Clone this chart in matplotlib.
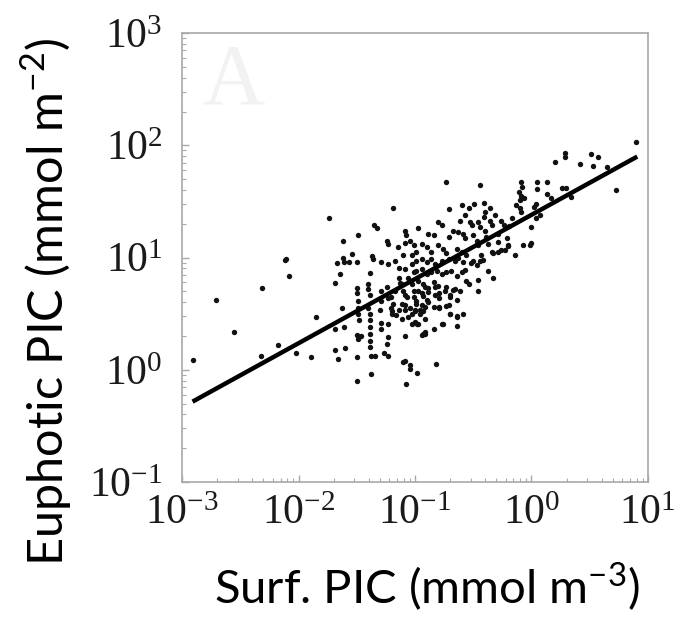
import numpy as np
import matplotlib
matplotlib.use('Agg')
import matplotlib.pyplot as plt
from matplotlib.ticker import LogLocator, NullFormatter

# values as (log10 surface PIC, log10 euphotic PIC)
sparse_left = [
    (-2.91, 0.09), (-2.71, 0.62), (-2.55, 0.34), (-2.31, 0.73), (-2.32, 0.12),
    (-2.18, 0.22), (-2.12, 0.98), (-2.11, 0.99), (-2.08, 0.84), (-2.02, 0.15),
]
upper_left = [
    (-1.74, 1.35), (-1.19, 1.44), (-1.35, 1.29), (-1.33, 1.26), (-1.49, 1.20),
    (-1.62, 1.15), (-1.09, 1.24), (-1.08, 1.20), (-1.24, 1.15), (-1.23, 1.12),
    (-1.15, 1.09), (-1.09, 1.13), (-1.04, 1.15), (-1.01, 1.11), (-1.54, 1.03),
    (-1.37, 1.01), (-1.10, 1.02), (-1.03, 1.02), (-1.62, 1.00),
]
upper_mid = [
    (-0.73, 1.67), (-0.44, 1.65), (-0.09, 1.67), (-0.08, 1.63), (-0.11, 1.58),
    (-0.09, 1.55), (-0.06, 1.53), (-0.10, 1.51), (-0.13, 1.47), (-0.10, 1.44),
    (-0.09, 1.41), (-0.71, 1.43), (-0.60, 1.47), (-0.54, 1.44), (-0.49, 1.48),
    (-0.41, 1.49), (-0.36, 1.44), (-0.40, 1.41), (-0.41, 1.36), (-0.31, 1.38),
    (-0.57, 1.38), (-0.61, 1.33), (-0.53, 1.32), (-0.51, 1.29), (-0.46, 1.32),
    (-0.44, 1.27), (-0.36, 1.33), (-0.34, 1.29), (-0.26, 1.33), (-0.24, 1.29),
    (-0.17, 1.35), (-0.97, 1.26), (-0.80, 1.32), (-0.77, 1.29), (-0.89, 1.21),
    (-0.84, 1.20), (-0.67, 1.24), (-0.63, 1.23), (-0.71, 1.18), (-0.59, 1.21),
    (-0.57, 1.17), (-0.50, 1.20), (-0.47, 1.15), (-0.46, 1.11), (-0.40, 1.24),
    (-0.39, 1.18), (-0.37, 1.12), (-0.29, 1.21), (-0.29, 1.14), (-0.21, 1.17),
    (-0.20, 1.11), (-0.07, 1.11), (-0.01, 1.11), (-0.94, 1.12), (-0.90, 1.09),
    (-0.86, 1.05), (-0.80, 1.11), (-0.76, 1.08), (-0.73, 1.04), (-0.64, 1.08),
    (-0.60, 1.05), (-0.56, 1.02), (-0.34, 1.05), (-0.29, 1.05), (-0.23, 1.07),
    (-0.43, 1.02), (-0.14, 1.02), (-0.99, 1.05), (-0.42, 0.98), (-0.33, 1.04),
    (-0.26, 1.07), (-0.20, 1.10), (-0.52, 0.95), (-0.57, 0.89), (-0.19, 1.28),
]
upper_right = [
    (0.90, 2.03), (0.29, 1.93), (0.29, 1.90), (0.20, 1.85), (0.51, 1.92),
    (0.57, 1.90), (0.42, 1.83), (0.53, 1.82), (0.65, 1.81), (0.73, 1.60),
    (0.05, 1.67), (0.13, 1.67), (0.05, 1.61), (0.13, 1.57), (0.26, 1.62),
    (0.30, 1.62), (0.34, 1.54), (0.17, 1.53), (0.04, 1.35), (0.00, 1.27),
    (0.00, 1.13), (0.02, 1.45), (0.04, 1.48), (0.07, 1.38),
]
lower_left = [
    (-1.67, 0.95), (-1.61, 0.96), (-1.57, 0.96), (-1.50, 0.96), (-1.36, 0.99),
    (-1.29, 0.96), (-1.64, 0.85), (-1.69, 0.77), (-1.39, 0.86), (-1.40, 0.76),
    (-1.40, 0.72), (-1.39, 0.67), (-1.50, 0.73), (-1.50, 0.68), (-1.49, 0.61),
    (-1.49, 0.55), (-1.49, 0.50), (-1.48, 0.44), (-1.63, 0.55), (-1.85, 0.47),
    (-1.40, 0.55), (-1.39, 0.50), (-1.39, 0.44), (-1.39, 0.38), (-1.39, 0.32),
    (-1.39, 0.26), (-1.39, 0.20), (-1.29, 0.70), (-1.29, 0.61), (-1.30, 0.53),
    (-1.29, 0.42), (-1.29, 0.36), (-1.23, 0.64), (-1.21, 0.55), (-1.20, 0.50),
    (-1.23, 0.41), (-1.14, 0.82), (-1.11, 0.76), (-1.17, 0.70), (-1.09, 0.67),
    (-1.06, 0.82), (-1.03, 0.76), (-1.01, 0.70), (-1.09, 0.58), (-1.04, 0.55),
    (-1.03, 0.50), (-1.14, 0.53), (-1.11, 0.45), (-1.23, 0.94), (-1.17, 0.97),
    (-1.14, 0.91), (-1.09, 0.90), (-1.03, 0.94), (-1.01, 0.87), (-1.69, 0.36),
    (-1.61, 0.38), (-1.50, 0.31), (-1.46, 0.30), (-1.49, 0.27), (-1.23, 0.29),
    (-1.24, 0.23), (-1.09, 0.30), (-1.69, 0.18), (-1.60, 0.19), (-1.89, 0.11),
    (-1.66, 0.10), (-1.50, 0.11), (-1.38, 0.12), (-1.34, 0.12), (-1.27, 0.15),
    (-1.23, 0.12), (-1.09, 0.08), (-1.04, 0.04),
]
lower_mid = [
    (-0.99, 0.97), (-0.94, 0.99), (-0.90, 0.96), (-0.86, 0.99), (-0.83, 0.94),
    (-0.77, 0.97), (-0.71, 0.99), (-0.66, 0.97), (-0.63, 1.00), (-0.59, 0.96),
    (-0.99, 0.88), (-0.94, 0.90), (-0.90, 0.85), (-0.86, 0.87), (-0.81, 0.88),
    (-0.77, 0.85), (-0.73, 0.87), (-0.69, 0.88), (-0.64, 0.84), (-0.60, 0.87),
    (-0.56, 0.79), (-0.54, 0.76), (-0.50, 0.97), (-0.47, 0.93), (-0.44, 0.97),
    (-0.37, 0.88), (-0.33, 0.82), (-0.46, 0.80), (-0.46, 0.70), (-0.97, 0.79),
    (-0.93, 0.76), (-0.89, 0.73), (-0.84, 0.78), (-0.80, 0.75), (-0.97, 0.70),
    (-0.93, 0.66), (-0.89, 0.69), (-0.83, 0.67), (-0.79, 0.64), (-0.74, 0.70),
    (-0.70, 0.67), (-0.66, 0.72), (-0.61, 0.70), (-0.99, 0.61), (-0.94, 0.58),
    (-0.89, 0.60), (-1.00, 0.53), (-0.96, 0.50), (-0.91, 0.45), (-0.79, 0.55),
    (-0.73, 0.57), (-0.70, 0.50), (-0.64, 0.48), (-0.59, 0.50), (-0.64, 0.39),
    (-0.77, 0.41), (-0.84, 0.36), (-0.98, 0.41), (-0.94, 0.31), (-0.91, 0.32),
    (-0.82, 0.05),
]
dense_core = [
    (-1.00, 0.43), (-0.97, 0.41), (-0.93, 0.32), (-0.91, 0.34), (-0.91, 0.74),
    (-0.94, 0.68), (-0.90, 0.62), (-1.01, 0.65), (-0.99, 0.59), (-0.96, 0.53),
    (-1.00, 0.52), (-0.93, 0.52), (-0.91, 0.56), (-0.84, 0.56), (-0.79, 0.56),
    (-0.71, 0.58), (-0.83, 0.74), (-0.79, 0.68), (-0.73, 0.74), (-0.70, 0.65),
    (-0.67, 0.71), (-0.64, 0.62), (-0.76, 0.41), (-0.70, 0.50), (-0.64, 0.47),
    (-1.07, 0.65), (-1.11, 0.59), (-1.09, 0.53), (-1.06, 0.47), (-1.03, 0.41),
    (-1.16, 0.49), (-1.20, 0.52), (-1.19, 0.59), (-1.21, 0.65), (-1.24, 0.74),
    (-1.10, 0.70), (-1.13, 0.77),
]
bottom = [
    (-1.50, -0.10), (-1.38, -0.04), (-1.08, -0.13), (-0.98, -0.03),
    (-1.10, 0.07), (-1.04, 0.01),
]

# regression line end points
fit_surf = [1.23e-3, 8.1]
fit_euph = [0.52, 79.4]

groups = [sparse_left, upper_left, upper_mid, upper_right,
          lower_left, lower_mid, dense_core, bottom]
pts = np.array([p for g in groups for p in g])
surf = 10 ** pts[:, 0]
euph = 10 ** pts[:, 1]

plt.rcParams['font.family'] = 'Liberation Serif'
plt.rcParams['mathtext.fontset'] = 'custom'
plt.rcParams['mathtext.rm'] = 'Liberation Serif'

fig = plt.figure(figsize=(6.82, 6.2), dpi=100)
ax = fig.add_axes([0.267, 0.2226, 0.683, 0.724])

ax.scatter(surf, euph, s=15, color='#111111', marker='o', linewidths=0, zorder=2)
ax.plot(fit_surf, fit_euph, color='black', lw=3.2, solid_capstyle='butt', zorder=3)

ax.set_xscale('log')
ax.set_yscale('log')
ax.set_xlim(1e-3, 1e1)
ax.set_ylim(1e-1, 1e3)
ax.xaxis.set_major_locator(LogLocator(base=10, numticks=10))
ax.yaxis.set_major_locator(LogLocator(base=10, numticks=10))
ax.xaxis.set_minor_locator(LogLocator(base=10, subs=np.arange(2, 10), numticks=20))
ax.yaxis.set_minor_locator(LogLocator(base=10, subs=np.arange(2, 10), numticks=20))
ax.xaxis.set_minor_formatter(NullFormatter())
ax.yaxis.set_minor_formatter(NullFormatter())

for sp in ax.spines.values():
    sp.set_color('#a8a8a8')
    sp.set_linewidth(1.2)
ax.tick_params(which='both', direction='in', color='#a8a8a8', top=False, right=False)
ax.tick_params(which='major', length=5, width=1.0, labelsize=30)
ax.tick_params(which='minor', length=3, width=0.8)
ax.tick_params(axis='x', which='major', pad=9)
ax.tick_params(axis='y', which='major', pad=14)
for lab in ax.get_xticklabels() + ax.get_yticklabels():
    lab.set_color('#1a1a1a')

# faint panel letter
ax.text(0.11, 0.89, 'A', transform=ax.transAxes, fontsize=62, color='#f2f2f2',
        ha='center', va='center')

fig.text(0.626, 0.052, r'Surf. PIC (mmol m$^{\mathdefault{-3}}$)', family='Lato',
         fontsize=34, ha='center', va='center', color='black')
fig.text(0.068, 0.513, r'Euphotic PIC (mmol m$^{\mathdefault{-2}}$)', family='Lato',
         fontsize=35, ha='center', va='center', rotation=90, color='black')

fig.savefig('out.png', dpi=100, facecolor='white')
